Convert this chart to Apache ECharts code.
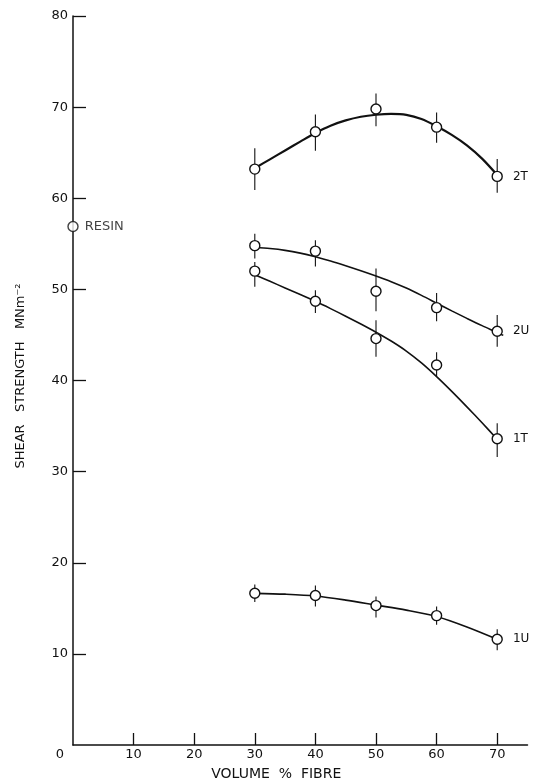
<!DOCTYPE html>
<html>
<head>
<meta charset="utf-8">
<script src="https://cdn.jsdelivr.net/npm/echarts@6/dist/echarts.min.js"></script>
<style>
html,body{margin:0;padding:0;background:#fff;}
#chart{width:542px;height:784px;}
</style>
</head>
<body>
<div id="chart"></div>
<script>
// ---- data ----
const fibre = [30, 40, 50, 60, 70];
const xTickValues = [10, 20, 30, 40, 50, 60, 70];
const xLabelValues = [0, 10, 20, 30, 40, 50, 60, 70];

const s2T = [63.2, 67.3, 69.8, 67.8, 62.4];
const s2TLow = [60.9, 65.2, 67.9, 66.1, 60.6];
const s2THigh = [65.5, 69.2, 71.5, 69.4, 64.3];

const s2U = [54.8, 54.2, 49.8, 48.0, 45.4];
const s2ULow = [53.4, 52.5, 47.6, 46.5, 43.7];
const s2UHigh = [56.1, 55.4, 52.3, 49.6, 47.2];

const s1T = [52.0, 48.7, 44.6, 41.7, 33.6];
const s1TLow = [50.3, 47.4, 42.6, 40.5, 31.6];
const s1THigh = [53.0, 49.9, 46.6, 43.1, 35.3];

const s1U = [16.65, 16.4, 15.3, 14.2, 11.6];
const s1ULow = [15.7, 15.2, 14.0, 13.2, 10.4];
const s1UHigh = [17.6, 17.5, 16.3, 15.2, 12.7];

const resinX = 0;
const resinY = 56.9;

// hand-drawn fitted curves
const curveXFine = [30, 32.5, 35, 37.5, 40, 42.5, 45, 47.5, 50, 52.5, 55, 57.5, 60, 62.5, 65, 67.5, 70];
const c2T = [63.3, 64.27, 65.24, 66.21, 67.16, 67.96, 68.54, 68.94, 69.16, 69.25, 69.15, 68.7, 67.9, 66.95, 65.8, 64.35, 62.55];
const c2UX = [30, 32.5, 35, 37.5, 40, 42.5, 45, 47.5, 50, 52.5, 55, 57.5, 60, 62.5, 65, 67.5, 70, 71];
const c2U = [54.6, 54.48, 54.28, 53.98, 53.58, 53.11, 52.59, 52.04, 51.46, 50.84, 50.14, 49.34, 48.49, 47.64, 46.82, 46.02, 45.27, 44.95];
const c1T = [51.6, 50.88, 50.16, 49.44, 48.69, 47.89, 47.06, 46.2, 45.3, 44.33, 43.23, 41.93, 40.43, 38.81, 37.11, 35.36, 33.56];
const c1UX = [30, 35, 40, 45, 50, 55, 60, 65, 70];
const c1U = [16.65, 16.55, 16.35, 15.9, 15.35, 14.8, 14.1, 12.95, 11.6];

const seriesNames = ['2T', '2U', '1T', '1U'];

// ---- build options ----
const INK = '#111';
const FONT = 'DejaVu Sans';
const zip = (xs, ys) => xs.map((x, i) => [x, ys[i]]);
const zip3 = (xs, lo, hi) => xs.map((x, i) => [x, lo[i], hi[i]]);

function errSeries(lo, hi) {
  return {
    type: 'custom',
    z: 1,
    silent: true,
    data: zip3(fibre, lo, hi),
    renderItem: function (params, api) {
      const a = api.coord([api.value(0), api.value(1)]);
      const b = api.coord([api.value(0), api.value(2)]);
      return {
        type: 'line',
        shape: { x1: a[0], y1: a[1], x2: b[0], y2: b[1] },
        style: { stroke: INK, lineWidth: 1.1 }
      };
    }
  };
}
function curveSeries(xs, ys, w) {
  return {
    type: 'line',
    z: 2,
    silent: true,
    smooth: 0.3,
    showSymbol: false,
    symbol: 'none',
    data: zip(xs, ys),
    lineStyle: { color: INK, width: w }
  };
}
function pointSeries(name, ys) {
  const data = zip(fibre, ys).map(p => ({ value: p }));
  data[data.length - 1].label = {
    show: true, position: 'right', distance: 10,
    formatter: name, color: INK, fontFamily: FONT, fontSize: 12
  };
  return {
    name: name,
    type: 'scatter',
    z: 3,
    symbol: 'circle',
    symbolSize: 10,
    itemStyle: { color: '#fff', borderColor: INK, borderWidth: 1.4, opacity: 1 },
    data: data
  };
}

const ys = [s2T, s2U, s1T, s1U];
const los = [s2TLow, s2ULow, s1TLow, s1ULow];
const his = [s2THigh, s2UHigh, s1THigh, s1UHigh];
const curves = [[curveXFine, c2T, 2.2], [c2UX, c2U, 1.6], [curveXFine, c1T, 1.6], [c1UX, c1U, 1.7]];

const series = [];
for (let k = 0; k < 4; k++) {
  series.push(errSeries(los[k], his[k]));
  series.push(curveSeries(curves[k][0], curves[k][1], curves[k][2]));
  series.push(pointSeries(seriesNames[k], ys[k]));
}
series.push({
  name: 'RESIN',
  type: 'scatter',
  z: 3,
  symbol: 'circle',
  symbolSize: 10,
  itemStyle: { color: '#fff', borderColor: INK, borderWidth: 1.4 },
  label: { show: true, position: 'right', distance: 6, formatter: 'RESIN',
           color: INK, fontFamily: FONT, fontSize: 13 },
  data: [[resinX, resinY]]
});

const chart = echarts.init(document.getElementById('chart'), null, { renderer: 'canvas' });
chart.setOption({
  backgroundColor: '#fff',
  animation: false,
  grid: { left: 73, right: 14.5, top: 16, bottom: 39, outerBoundsMode: 'none', containLabel: false },
  xAxis: {
    type: 'value',
    min: 0, max: 75, interval: 10,
    name: 'VOLUME  %  FIBRE',
    nameLocation: 'middle',
    nameGap: 22,
    nameTextStyle: { color: INK, fontFamily: FONT, fontSize: 14, padding: [0, 48, 0, 0] },
    axisLine: { show: true, lineStyle: { color: INK, width: 1.5 } },
    axisTick: { show: true, inside: true, length: 12, customValues: xTickValues,
                lineStyle: { color: INK, width: 1.3 } },
    axisLabel: {
      customValues: xLabelValues, margin: 3, color: INK, fontFamily: FONT, fontSize: 13,
      formatter: v => (v === 0 ? '{z|0}' : String(v)),
      rich: { z: { padding: [0, 26, 0, 0], color: INK, fontFamily: FONT, fontSize: 13 } }
    },
    splitLine: { show: false }
  },
  yAxis: {
    type: 'value',
    min: 0, max: 80, interval: 10,
    name: 'SHEAR   STRENGTH   MNm⁻²',
    nameLocation: 'middle',
    nameGap: 46,
    nameRotate: 90,
    nameTextStyle: { color: INK, fontFamily: FONT, fontSize: 13, padding: [0, 0, 0, 9] },
    axisLine: { show: true, lineStyle: { color: INK, width: 1.5 } },
    axisTick: { show: true, inside: true, length: 13, lineStyle: { color: INK, width: 1.3 } },
    axisLabel: { showMinLabel: false, margin: 5, color: INK, fontFamily: FONT, fontSize: 13 },
    splitLine: { show: false }
  },
  series: series
});
</script>
</body>
</html>
